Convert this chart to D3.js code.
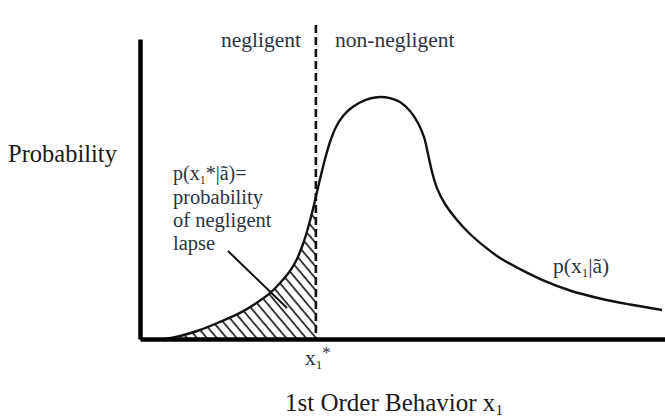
<!DOCTYPE html>
<html>
<head>
<meta charset="utf-8">
<script src="https://cdn.jsdelivr.net/npm/d3@7"></script>
<style>
  body { margin: 0; background: #fff; }
  svg { display: block; }
  text { font-family: "Liberation Serif", "Times New Roman", serif; }
</style>
</head>
<body>
<div id="chart"></div>
<script>
// Behaviour x1 (0-100) and probability p(x1|ã) (0-100)
const behavior = [4.76, 7.62, 11.43, 15.24, 19.05, 21.90, 24.76, 26.67, 28.57, 29.90, 31.05, 32.00,
  32.95, 33.71, 34.48, 35.24, 36.19, 37.33, 38.67, 40.00, 41.90, 43.81, 45.71, 47.62, 49.52, 51.43,
  52.95, 54.10, 54.86, 55.62, 56.57, 58.10, 60.38, 62.86, 65.71, 68.57, 72.38, 77.14, 81.90, 87.62,
  93.33, 99.43];
const probability = [0, 1.0, 3.0, 5.7, 8.7, 11.7, 15.3, 18.67, 22.67, 26.67, 31.67, 37.0,
  43.33, 49.0, 54.67, 60.0, 65.67, 70.67, 74.33, 76.67, 78.83, 80.17, 80.67, 80.3, 79.0, 76.0,
  72.0, 67.3, 61.7, 55.7, 50.3, 45.0, 39.7, 35.0, 30.7, 27.0, 23.3, 19.3, 16.17, 13.5,
  11.5, 9.67];
// negligence threshold x1*
const threshold = 33.5;

const width = 665, height = 417;
const margin = {top: 39, right: 0, bottom: 78, left: 140};

const svg = d3.select("#chart")
  .append("svg")
  .attr("width", width)
  .attr("height", height);

const x = d3.scaleLinear()
  .domain([0, 100])
  .range([margin.left, width - margin.right]);

const y = d3.scaleLinear()
  .domain([0, 100])
  .range([height - margin.bottom, margin.top]);

const points = behavior.map((b, i) => ({b: b, p: probability[i]}));

// hatch pattern for the negligent region
const defs = svg.append("defs");
defs.append("pattern")
  .attr("id", "hatch")
  .attr("patternUnits", "userSpaceOnUse")
  .attr("width", 7.6)
  .attr("height", 10)
  .attr("patternTransform", "rotate(-40)")
  .append("line")
  .attr("x1", 2).attr("x2", 2)
  .attr("y1", 0).attr("y2", 10)
  .attr("stroke", "#111")
  .attr("stroke-width", 1.6);

defs.append("clipPath")
  .attr("id", "leftOfThreshold")
  .append("rect")
  .attr("x", 0)
  .attr("y", 0)
  .attr("width", x(threshold))
  .attr("height", height);

const curve = d3.curveCatmullRom.alpha(0.5);

const area = d3.area()
  .x(d => x(d.b))
  .y0(y(0))
  .y1(d => y(d.p))
  .curve(curve);

svg.append("path")
  .datum(points)
  .attr("d", area)
  .attr("fill", "url(#hatch)")
  .attr("clip-path", "url(#leftOfThreshold)");

// density curve
const line = d3.line()
  .x(d => x(d.b))
  .y(d => y(d.p))
  .curve(curve);

svg.append("path")
  .datum(points)
  .attr("d", line)
  .attr("fill", "none")
  .attr("stroke", "#111")
  .attr("stroke-width", 2.4);

// dashed threshold line
svg.append("line")
  .attr("x1", x(threshold))
  .attr("x2", x(threshold))
  .attr("y1", 25)
  .attr("y2", y(0))
  .attr("stroke", "#111")
  .attr("stroke-width", 2.6)
  .attr("stroke-dasharray", "8,4");

// axes, no ticks
svg.append("g")
  .attr("transform", `translate(0,${y(0)})`)
  .call(d3.axisBottom(x).ticks(0).tickSize(0).tickSizeOuter(0))
  .select(".domain")
  .attr("stroke", "#000")
  .attr("stroke-width", 4.5);

svg.append("g")
  .attr("transform", `translate(${x(0)},0)`)
  .call(d3.axisLeft(y).ticks(0).tickSize(0).tickSizeOuter(0))
  .select(".domain")
  .attr("stroke", "#000")
  .attr("stroke-width", 4.5);

// leader line from annotation to hatched area
svg.append("line")
  .attr("x1", 228).attr("y1", 251)
  .attr("x2", 287).attr("y2", 308)
  .attr("stroke", "#111")
  .attr("stroke-width", 2);

const labelColor = "#2c3343";

// region labels
svg.append("text")
  .attr("x", 221).attr("y", 47)
  .attr("font-size", 21.5)
  .attr("fill", labelColor)
  .text("negligent");

svg.append("text")
  .attr("x", 335).attr("y", 47)
  .attr("font-size", 21.5)
  .attr("fill", labelColor)
  .text("non-negligent");

// y label
svg.append("text")
  .attr("x", 8).attr("y", 162)
  .attr("font-size", 24.5)
  .attr("fill", "#1a1a1a")
  .text("Probability");

// annotation, one text per line
const first = svg.append("text")
  .attr("x", 173).attr("y", 180)
  .attr("font-size", 20)
  .attr("fill", labelColor);
first.append("tspan").text("p(x");
first.append("tspan").attr("font-size", 12).attr("dy", 4).text("1");
first.append("tspan").attr("dy", -4).text("*|ã)=");

["probability", "of negligent", "lapse"].forEach((t, i) => {
  svg.append("text")
    .attr("x", 173)
    .attr("y", 204 + i * 23)
    .attr("font-size", 20.5)
    .attr("fill", labelColor)
    .text(t);
});

// curve label
const curveLabel = svg.append("text")
  .attr("x", 553).attr("y", 273)
  .attr("font-size", 21.5)
  .attr("fill", labelColor);
curveLabel.append("tspan").text("p(x");
curveLabel.append("tspan").attr("font-size", 13).attr("dy", 4).text("1");
curveLabel.append("tspan").attr("dy", -4).text("|ã)");

// threshold label x1*
const tLabel = svg.append("text")
  .attr("x", 305).attr("y", 365)
  .attr("font-size", 21.5)
  .attr("fill", labelColor);
tLabel.append("tspan").text("x");
tLabel.append("tspan").attr("font-size", 13).attr("dy", 4).text("1");
tLabel.append("tspan").attr("font-size", 17).attr("dy", -11).text("*");

// x label
const xLabel = svg.append("text")
  .attr("x", 285).attr("y", 411)
  .attr("font-size", 25)
  .attr("fill", "#1a1a1a");
xLabel.append("tspan").text("1st Order Behavior x");
xLabel.append("tspan").attr("font-size", 15).attr("dy", 4).text("1");
</script>
</body>
</html>
